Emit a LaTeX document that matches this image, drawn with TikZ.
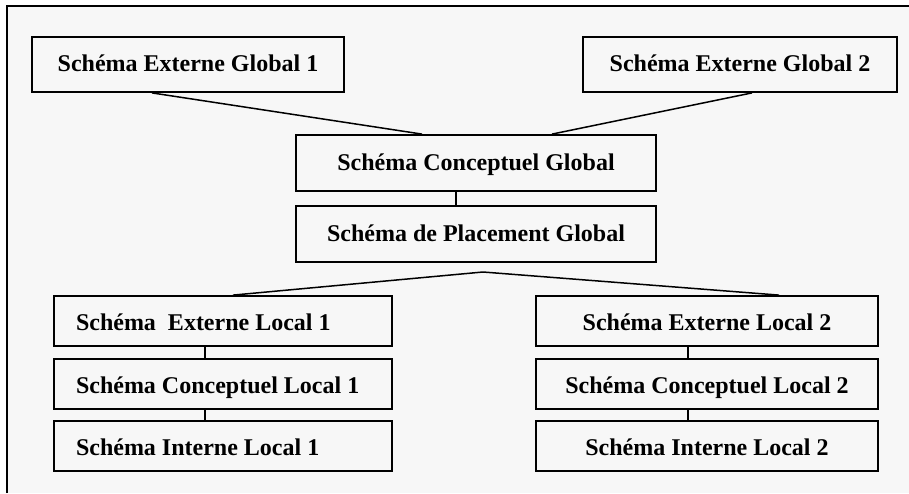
\documentclass[tikz,border=0pt]{standalone}
\usepackage{fontspec}
\setmainfont{Liberation Serif}
% left-aligned label filling a fixed-width line
\newcommand\flushtext[1]{\makebox[294pt][l]{#1}}
\begin{document}
\begin{tikzpicture}[x=1pt,y=-1pt,
  schema/.style={draw, line width=1.8pt, fill=paper, inner sep=0pt,
    font=\fontsize{24}{28}\selectfont\bfseries},
  upper/.style={schema, minimum height=55pt, text height=16pt, text depth=2pt},
  lower/.style={schema, minimum height=50pt, text height=18pt, text depth=0pt},
  leftcol/.style={lower, minimum width=338pt},
  rightcol/.style={lower, minimum width=342pt},
  link/.style={line width=1.5pt}]
\definecolor{paper}{HTML}{F7F7F7}
\useasboundingbox (0,0) rectangle (909,493);
% page frame
\fill[white] (0,0) rectangle (909,493);
\fill[paper] (7,6) rectangle (909,493);
\draw[line width=2.4pt] (7,493) -- (7,6) -- (909,6);

% global level
\node[upper, minimum width=312pt] (eg1) at (188,64.5) {Schéma Externe Global 1};
\node[upper, minimum width=314pt] (eg2) at (740,64.5) {Schéma Externe Global 2};
\node[upper, minimum width=360pt, minimum height=56pt] (cg) at (476,163) {Schéma Conceptuel Global};
\node[upper, minimum width=360pt, minimum height=56pt] (pg) at (476,234) {Schéma de Placement Global};

% local sites
\node[leftcol] (el1) at (223,321) {\flushtext{Schéma\ \ Externe Local 1}};
\node[leftcol] (cl1) at (223,384) {\flushtext{Schéma Conceptuel Local 1}};
\node[leftcol] (il1) at (223,446) {\flushtext{Schéma Interne Local 1}};
\node[rightcol] (el2) at (707,321) {Schéma Externe Local 2};
\node[rightcol] (cl2) at (707,384) {Schéma Conceptuel Local 2};
\node[rightcol] (il2) at (707,446) {Schéma Interne Local 2};

% connectors
\coordinate (fan) at (483,272);
\draw[link] ([xshift=-36pt]eg1.south) -- ([xshift=-54pt]cg.north);
\draw[link] ([xshift=12pt]eg2.south) -- ([xshift=76pt]cg.north);
\draw[link] ([xshift=-20pt]cg.south) -- ([xshift=-20pt]pg.north);
\draw[link] ([xshift=10pt]el1.north) -- (fan) -- ([xshift=72pt]el2.north);
\draw[link] ([xshift=-18pt]el1.south) -- ([xshift=-18pt]cl1.north);
\draw[link] ([xshift=-18pt]cl1.south) -- ([xshift=-18pt]il1.north);
\draw[link] ([xshift=-19pt]el2.south) -- ([xshift=-19pt]cl2.north);
\draw[link] ([xshift=-19pt]cl2.south) -- ([xshift=-19pt]il2.north);
\end{tikzpicture}
\end{document}
